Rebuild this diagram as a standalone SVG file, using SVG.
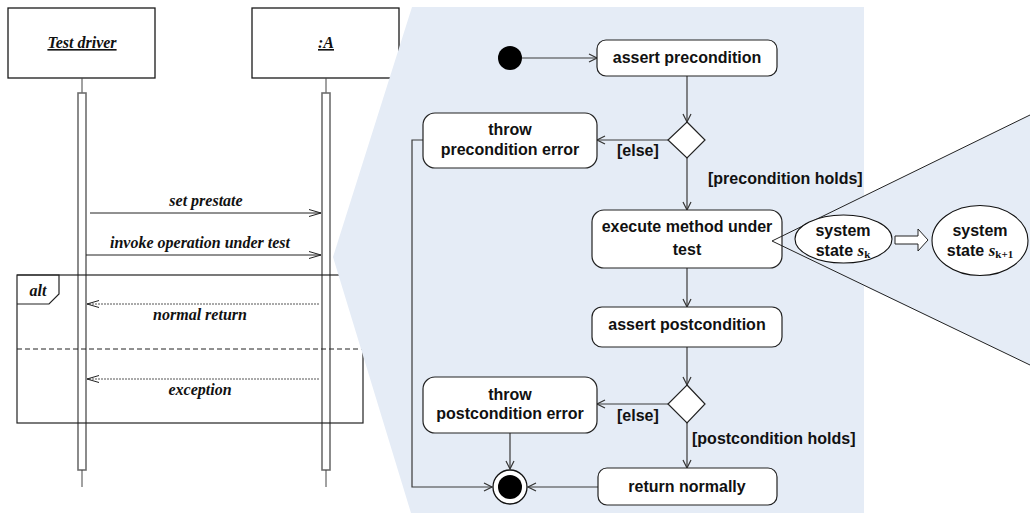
<svg xmlns="http://www.w3.org/2000/svg" width="1030" height="515" viewBox="0 0 1030 515">
  <defs>
    <style>
      .seqbox { fill: #ffffff; stroke: #1a1a1a; stroke-width: 1.3; }
      .seqtxt { font-family: "Liberation Serif", "Times New Roman", serif; font-weight: bold; font-style: italic; font-size: 16px; fill: #111; }
      .lifeline { stroke: #444; stroke-width: 1; fill: none; }
      .bar { fill: #ffffff; stroke: #6e6e6e; stroke-width: 1.6; }
      .msg { stroke: #222; stroke-width: 1; fill: none; }
      .ret { stroke: #555; stroke-width: 1; stroke-dasharray: 2 1; fill: none; }
      .frame { stroke: #222; stroke-width: 1.2; fill: none; }
      .act { fill: #ffffff; stroke: #222; stroke-width: 1.2; }
      .acttxt { font-family: "Liberation Sans", Arial, sans-serif; font-weight: bold; font-size: 16px; fill: #111; text-anchor: middle; }
      .guard { font-family: "Liberation Sans", Arial, sans-serif; font-weight: bold; font-size: 16px; fill: #111; }
      .flow { stroke: #3a3a3a; stroke-width: 1.2; fill: none; }
      .zoomline { stroke: #222; stroke-width: 1; fill: none; }
      .serif { font-family: "Liberation Serif", "Times New Roman", serif; }
    </style>
    <marker id="seqHead" markerWidth="14" markerHeight="10" refX="12" refY="4" orient="auto" markerUnits="userSpaceOnUse">
      <path d="M0,0.5 L12,4 L0,7.5" fill="none" stroke="#222" stroke-width="1"/>
    </marker>
    <marker id="actHead" markerWidth="12" markerHeight="12" refX="9" refY="5" orient="auto" markerUnits="userSpaceOnUse">
      <path d="M1,1 L9,5 L1,9" fill="none" stroke="#333" stroke-width="1.2"/>
    </marker>
  </defs>

  <rect width="1030" height="515" fill="#ffffff"/>

  <!-- Sequence diagram: lifelines -->
  <g id="test-driver">
    <rect class="seqbox" x="8" y="8" width="147" height="70"/>
    <text class="seqtxt" x="82" y="48" text-anchor="middle" text-decoration="underline">Test driver</text>
    <line class="lifeline" x1="82" y1="78" x2="82" y2="93"/>
    <rect class="bar" x="78" y="93" width="8" height="377"/>
    <line class="lifeline" x1="82" y1="470" x2="82" y2="487"/>
  </g>
  <g id="object-a">
    <rect class="seqbox" x="252" y="8" width="147" height="70"/>
    <text class="seqtxt" x="326" y="48" text-anchor="middle" text-decoration="underline">:A</text>
    <line class="lifeline" x1="326" y1="78" x2="326" y2="93"/>
    <rect class="bar" x="322" y="93" width="8" height="377"/>
    <line class="lifeline" x1="326" y1="470" x2="326" y2="487"/>
  </g>

  <!-- Combined fragment -->
  <g id="alt-fragment">
    <rect class="frame" x="17" y="275" width="346" height="148"/>
    <path class="frame" d="M17,275 L59,275 L59,294 L49,304 L17,304"/>
    <text class="seqtxt" x="38" y="296" text-anchor="middle">alt</text>
    <line x1="17" y1="349" x2="363" y2="349" stroke="#222" stroke-width="1" stroke-dasharray="5 3"/>
  </g>

  <!-- Messages -->
  <g id="messages">
    <line class="msg" x1="90" y1="213" x2="321" y2="213" marker-end="url(#seqHead)"/>
    <text class="seqtxt" x="206" y="206" text-anchor="middle">set prestate</text>
    <line class="msg" x1="86" y1="255" x2="321" y2="255" marker-end="url(#seqHead)"/>
    <text class="seqtxt" x="200" y="248" text-anchor="middle">invoke operation under test</text>
    <line class="ret" x1="319" y1="304" x2="87" y2="304" marker-end="url(#seqHead)"/>
    <text class="seqtxt" x="200" y="320" text-anchor="middle">normal return</text>
    <line class="ret" x1="319" y1="379" x2="87" y2="379" marker-end="url(#seqHead)"/>
    <text class="seqtxt" x="200" y="395" text-anchor="middle">exception</text>
  </g>

  <!-- Magnified panel background -->
  <polygon id="panel" points="412,7 864,7 864,196 1030,115 1030,365 864,286 864,513 411,513 333,257" fill="#e5ecf6"/>

  <!-- Activity flows -->
  <g id="connectors">
    <line class="flow" x1="522" y1="58" x2="597" y2="58" marker-end="url(#actHead)"/>
    <line class="flow" x1="687" y1="76" x2="687" y2="122" marker-end="url(#actHead)"/>
    <line class="flow" x1="668" y1="140" x2="597" y2="140" marker-end="url(#actHead)"/>
    <line class="flow" x1="687" y1="158" x2="687" y2="210" marker-end="url(#actHead)"/>
    <line class="flow" x1="687" y1="268" x2="687" y2="307" marker-end="url(#actHead)"/>
    <line class="flow" x1="687" y1="347" x2="687" y2="385" marker-end="url(#actHead)"/>
    <line class="flow" x1="668" y1="404" x2="597" y2="404" marker-end="url(#actHead)"/>
    <line class="flow" x1="687" y1="423" x2="687" y2="468" marker-end="url(#actHead)"/>
    <line class="flow" x1="510" y1="433" x2="510" y2="469" marker-end="url(#actHead)"/>
    <path class="flow" d="M423,140 L412,140 L412,487 L492,487" marker-end="url(#actHead)"/>
    <line class="flow" x1="598" y1="487" x2="528" y2="487" marker-end="url(#actHead)"/>
  </g>

  <!-- Guards -->
  <g id="guards">
    <text class="guard" x="617" y="156">[else]</text>
    <text class="guard" x="708" y="184">[precondition holds]</text>
    <text class="guard" x="617" y="421">[else]</text>
    <text class="guard" x="692" y="444">[postcondition holds]</text>
  </g>

  <!-- Activity nodes -->
  <g id="initial">
    <circle cx="510" cy="58" r="12" fill="#000"/>
  </g>
  <g id="assert-pre">
    <rect class="act" x="597" y="40" width="180" height="36" rx="9"/>
    <text class="acttxt" x="687" y="63">assert precondition</text>
  </g>
  <g id="decision-pre">
    <polygon class="act" points="687,122 705,140 687,158 668,140"/>
  </g>
  <g id="throw-pre">
    <rect class="act" x="423" y="113" width="174" height="55" rx="12"/>
    <text class="acttxt" x="510" y="135">throw</text>
    <text class="acttxt" x="510" y="155">precondition error</text>
  </g>
  <g id="execute">
    <rect class="act" x="592" y="210" width="190" height="58" rx="12"/>
    <text class="acttxt" x="687" y="232">execute method under</text>
    <text class="acttxt" x="687" y="255">test</text>
  </g>
  <g id="assert-post">
    <rect class="act" x="592" y="307" width="190" height="40" rx="10"/>
    <text class="acttxt" x="687" y="330">assert postcondition</text>
  </g>
  <g id="decision-post">
    <polygon class="act" points="687,385 705,404 687,423 668,404"/>
  </g>
  <g id="throw-post">
    <rect class="act" x="423" y="377" width="174" height="56" rx="12"/>
    <text class="acttxt" x="510" y="400">throw</text>
    <text class="acttxt" x="510" y="419">postcondition error</text>
  </g>
  <g id="return-normally">
    <rect class="act" x="598" y="468" width="179" height="37" rx="9"/>
    <text class="acttxt" x="687" y="492">return normally</text>
  </g>
  <g id="final">
    <circle cx="510" cy="487" r="17" fill="#ffffff" stroke="#111" stroke-width="1.3"/>
    <circle cx="510" cy="487" r="12" fill="#000"/>
  </g>

  <!-- Detail of the method execution -->
  <g id="zoom-lines">
    <line class="zoomline" x1="772" y1="241" x2="1030" y2="115"/>
    <line class="zoomline" x1="772" y1="241" x2="1030" y2="365"/>
  </g>
  <g id="state-k">
    <ellipse cx="843.5" cy="239" rx="48.5" ry="24" fill="#ffffff" stroke="#111" stroke-width="1.1"/>
    <text class="acttxt" x="843" y="236">system</text>
    <text class="acttxt" x="843" y="256">state <tspan class="serif" font-style="italic" font-size="17px">s</tspan><tspan class="serif" font-size="11px" dy="2">k</tspan></text>
  </g>
  <g id="transition-arrow">
    <path d="M895,236 L918,236 L918,229 L928,240 L918,251 L918,244 L895,244 Z" fill="#ffffff" stroke="#222" stroke-width="1"/>
  </g>
  <g id="state-k1">
    <ellipse cx="980" cy="240.5" rx="48" ry="35" fill="#ffffff" stroke="#111" stroke-width="1.1"/>
    <text class="acttxt" x="980" y="236">system</text>
    <text class="acttxt" x="980" y="256">state <tspan class="serif" font-style="italic" font-size="17px">s</tspan><tspan class="serif" font-size="11px" dy="2">k+1</tspan></text>
  </g>
</svg>
